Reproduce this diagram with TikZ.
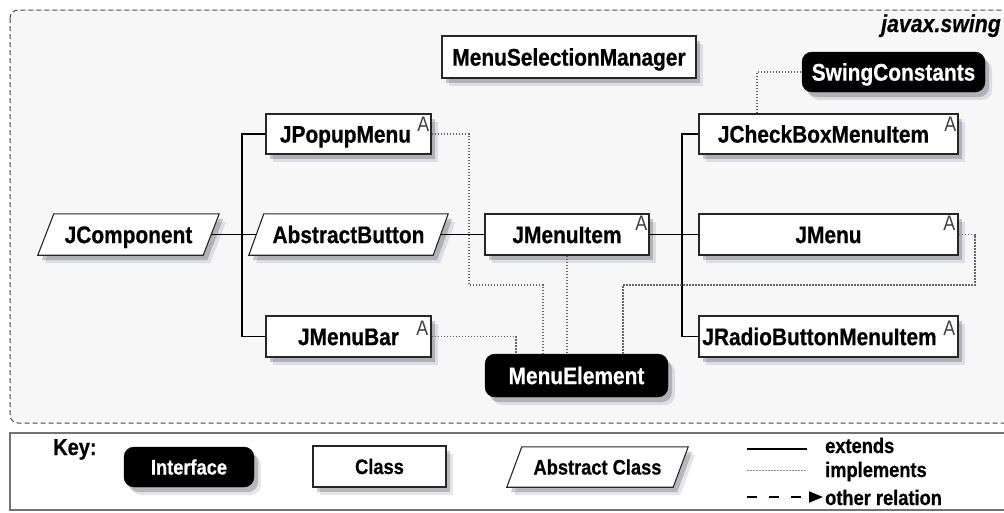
\documentclass[tikz,border=0pt]{standalone}
\usepackage{fontspec}
\setmainfont{Liberation Sans}[FakeStretch=0.87, BoldFeatures={FakeBold=0.6}, BoldItalicFeatures={FakeBold=0.4}]
\newfontfamily\amarkfont{Liberation Sans}[FakeStretch=0.85]
\usetikzlibrary{shadows,arrows.meta}
\pgfdeclarelayer{back}
\pgfdeclarelayer{bg}
\pgfsetlayers{back,bg,main}
\tikzset{
  shad/.style={drop shadow={shadow xshift=7pt,shadow yshift=-8pt,fill=black!70!blue,opacity=.10},
               drop shadow={shadow xshift=4pt,shadow yshift=-5pt,fill=black,opacity=.2}},
  lbl/.style={font=\fontsize{24}{26}\selectfont\bfseries, inner sep=0pt, text height=17.2pt, text depth=0pt},
  cls/.style={lbl, shad, draw=black!85, line width=1.1pt, fill=white, minimum height=41pt},
  iface/.style={lbl, shad, draw=black, fill=black, text=white, rounded corners=10pt, minimum height=41pt},
  abstxt/.style={lbl, minimum height=41pt},
  absshape/.style={shad, draw=black!85, line width=1.1pt, fill=white},
  amark/.style={font=\amarkfont\fontsize{21}{21}\selectfont, text=black!75, inner sep=0pt, anchor=north east},
  ext/.style={line width=1.1pt, draw=black},
  impl/.style={line width=1.3pt, draw=black!60, dash pattern=on 1.6pt off 1.4pt},
  other/.style={line width=1.8pt, dash pattern=on 10pt off 12pt, -{Triangle[length=14pt,width=11pt]}},
  keytxt/.style={font=\fontsize{21}{23}\selectfont\bfseries, inner sep=0pt, text height=15pt, text depth=0pt},
}
\newcommand{\parabox}[2]{%
  \begin{pgfonlayer}{bg}
  \path[absshape] ([xshift=#2/2]#1.north west) -- ([xshift=#2/2]#1.north east) -- ([xshift=-#2/2]#1.south east) -- ([xshift=-#2/2]#1.south west) -- cycle;
  \end{pgfonlayer}}
\begin{document}
\begin{tikzpicture}[x=1pt,y=-1pt]
\useasboundingbox (0,0) rectangle (1004,512);
\begin{pgfonlayer}{back}
  \draw[dash pattern=on 5pt off 3pt, line width=1pt, draw=black!70, fill=black!3, rounded corners=8pt] (10,10) rectangle (1030,423);
  \draw[line width=1.5pt, draw=black!55, fill=white] (10,433) rectangle (1030,510);
\end{pgfonlayer}

\node[font=\fontsize{24.5}{26}\selectfont\bfseries\itshape, inner sep=0pt, anchor=base east] (pkg) at (1001,32) {javax.swing};

\node[cls, minimum width=254pt, minimum height=42pt] (msm) at (569,57) {MenuSelectionManager};
\node[iface, minimum width=183pt, minimum height=40pt] (sc) at (893.5,72) {SwingConstants};
\node[cls, minimum width=165pt, minimum height=40pt] (jpm) at (348.5,134) {JPopupMenu\hspace*{6pt}};
\node[cls, minimum width=165pt] (jmb) at (348.5,336.5) {JMenuBar};
\node[cls, minimum width=164pt] (jmi) at (567,234.5) {JMenuItem};
\node[cls, minimum width=259pt, minimum height=40pt] (jcb) at (828.5,134) {JCheckBoxMenuItem\hspace*{10pt}};
\node[cls, minimum width=259pt] (jmenu) at (828.5,234.5) {JMenu};
\node[cls, minimum width=259pt] (jrb) at (828.5,336.5) {JRadioButtonMenuItem\hspace*{18pt}};
\node[iface, minimum width=183pt, minimum height=43pt] (me) at (576.5,375.5) {MenuElement};
\node[abstxt, minimum width=165pt] (jc) at (128.5,234.5) {JComponent}; \parabox{jc}{16}
\node[abstxt, minimum width=184pt] (ab) at (348.5,234.5) {AbstractButton}; \parabox{ab}{15}

\node[amark] (a1) at ([xshift=-2pt,yshift=-3pt]jpm.north east) {A};
\node[amark] (a2) at ([xshift=-2pt,yshift=-2pt]jmi.north east) {A};
\node[amark] (a3) at ([xshift=-2pt,yshift=-3pt]jcb.north east) {A};
\node[amark] (a4) at ([xshift=-3pt,yshift=-2pt]jmenu.north east) {A};
\node[amark] (a5) at ([xshift=-3pt,yshift=-5pt]jrb.north east) {A};
\node[amark] (a6) at ([xshift=-3pt,yshift=-5pt]jmb.north east) {A};

\coordinate (t1) at (242,234.5);
\coordinate (t2) at (682,234.5);
\draw[ext] (jc.east) -- (ab.west);
\draw[ext] (jpm.west) -| (t1) |- (jmb.west);
\draw[ext] (ab.east) -- (jmi.west);
\draw[ext] (jmi.east) -- (jmenu.west);
\draw[ext] (jcb.west) -| (t2) |- (jrb.west);

\coordinate (p1) at (469,285);
\coordinate (p2) at (975,285);
\draw[impl] (jpm.east) -| (p1) -| ([xshift=-33.5pt]me.north);
\draw[impl] (jmi.south) -- (jmi.south |- me.north);
\draw[impl] (jmb.east) -| ([xshift=-60.5pt]me.north);
\draw[impl] (jmenu.east) -| (p2) -| ([xshift=46.5pt]me.north);
\draw[impl] ([xshift=-71.5pt]jcb.north) |- (sc.west);

\node[keytxt, font=\fontsize{23}{25}\selectfont\bfseries, anchor=base west] (key) at (53,455) {Key:};
\node[iface, keytxt, minimum width=130pt, minimum height=40pt] (kif) at (189,467) {Interface};
\node[cls, keytxt, minimum width=133pt, minimum height=41pt] (kcl) at (379.5,466.5) {Class};
\node[abstxt, keytxt, minimum width=166pt, minimum height=40pt] (kab) at (597.5,467) {Abstract Class}; \parabox{kab}{15}

\node[keytxt, anchor=base west] (lext) at (825,453) {extends};
\node[keytxt, anchor=base west] (limp) at (825,477) {implements};
\node[keytxt, anchor=base west] (loth) at (825,505) {other relation};
\coordinate (e1) at (747,449); \coordinate (e2) at (807,449);
\draw[ext] (e1) -- (e2);
\coordinate (i1) at (747,470); \coordinate (i2) at (807,470);
\draw[impl, line width=1pt, draw=black!45] (i1) -- (i2);
\coordinate (o1) at (747,497); \coordinate (o2) at (823,497);
\draw[other] (o1) -- (o2);
\end{tikzpicture}
\end{document}
